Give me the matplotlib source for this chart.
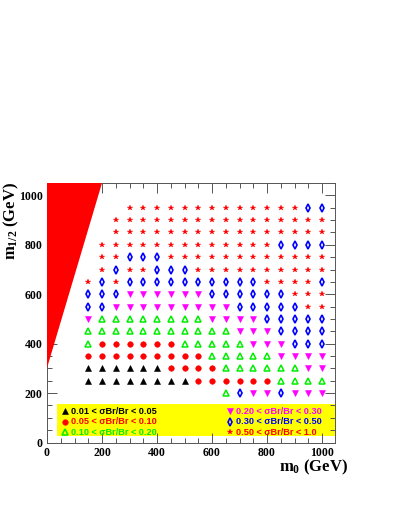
import matplotlib
matplotlib.use("Agg")
import matplotlib.pyplot as plt
from matplotlib.patches import Polygon, Rectangle
from matplotlib.ticker import MultipleLocator

plt.rcParams['mathtext.fontset'] = 'custom'
plt.rcParams['mathtext.rm'] = 'Liberation Serif:bold'
plt.rcParams['mathtext.it'] = 'Liberation Serif:bold'
plt.rcParams['mathtext.bf'] = 'Liberation Serif:bold'

# grid of (m0, m1/2) points, one code per point
m0_values = [150, 200, 250, 300, 350, 400, 450, 500, 550,
             600, 650, 700, 750, 800, 850, 900, 950, 1000]
m12_values = [950, 900, 850, 800, 750, 700, 650, 600,
              550, 500, 450, 400, 350, 300, 250, 200]
# A: 0.01-0.05, C: 0.05-0.10, G: 0.10-0.20, M: 0.20-0.30, D: 0.30-0.50, S: 0.50-1.0
grid_codes = [
    "...SSSSSSSSSSSSSDD",
    "..SSSSSSSSSSSSSSSS",
    "..SSSSSSSSSSSSSSSS",
    ".SSSSSSSSSSSSSDDDD",
    ".SSDDDSSSSSSSSSSSS",
    ".SDSSDDDSSSSSSSSSS",
    "SDSDDDDDDDDDDSSSSD",
    "DDDMMMMMMDDDDDDSSS",
    "DDMMMMMMMMMDDDDDSS",
    "MGGGGGGGGMMMMDDDDD",
    "GGGGGGGGGGGMMMDDDD",
    "GCCCCCCGGGGGMMMDDD",
    "CCCCCCCCCGGGGGMMMM",
    "AAAAAACCCCGGGGGGMM",
    "AAAAAAAACCCCCCGGGG",
    "..........GDMMDMMM",
]

range_labels = ["0.01 < σBr/Br < 0.05", "0.05 < σBr/Br < 0.10", "0.10 < σBr/Br < 0.20",
                "0.20 < σBr/Br < 0.30", "0.30 < σBr/Br < 0.50", "0.50 < σBr/Br < 1.0"]
codes = ["A", "C", "G", "M", "D", "S"]

# excluded region (red wedge)
wedge_m0 = [0, 0, 200]
wedge_m12 = [300, 1050, 1050]

styles = {
    "A": dict(marker='^', color='black', mfc='black', ms=4, mew=0.4),
    "C": dict(marker='o', color='#ff0000', mfc='#ff0000', ms=4, mew=0.4),
    "G": dict(marker='^', color='#00ee00', mfc='none', ms=4, mew=1.1),
    "M": dict(marker='v', color='#ff00ff', mfc='#ff00ff', ms=4, mew=0.4),
    "D": dict(marker='d', color='#0000ff', mfc='none', ms=4.2, mew=1.2),
    "S": dict(marker='*', color='#ff0000', mfc='#ff0000', ms=4.2, mew=0.2),
}
text_colors = ['black', '#ff0000', '#00ee00', '#ff00ff', '#0000ff', '#ff0000']

fig = plt.figure(figsize=(3.99, 5.16), dpi=100)
ax = fig.add_axes([47 / 399, (516 - 442.5) / 516, 288 / 399, 259.5 / 516])

ax.add_patch(Polygon(list(zip(wedge_m0, wedge_m12)), closed=True,
                     facecolor='#ff0000', edgecolor='none', zorder=3))
ax.add_patch(Rectangle((35, 25), 1050 - 35, 130, facecolor='#ffff00',
                       edgecolor='none', zorder=1))

for row, m12 in zip(grid_codes, m12_values):
    for code, m0 in zip(row, m0_values):
        if code == '.':
            continue
        ax.plot(m0, m12, linestyle='none', zorder=4, **styles[code])

# legend inside yellow box
leg_y = [127, 84, 41]
for i, (code, label) in enumerate(zip(codes, range_labels)):
    col = i // 3
    y = leg_y[i % 3]
    xm = 65 if col == 0 else 665
    ax.plot(xm, y, linestyle='none', zorder=4, **styles[code])
    ax.text(xm + 22, y, label, color=text_colors[i], fontsize=6.6,
            fontfamily='Liberation Sans', fontweight='bold', va='center', ha='left', zorder=5)

ax.set_xlim(0, 1047)
ax.set_ylim(0, 1050)
ax.xaxis.set_major_locator(MultipleLocator(200))
ax.xaxis.set_minor_locator(MultipleLocator(50))
ax.yaxis.set_major_locator(MultipleLocator(200))
ax.yaxis.set_minor_locator(MultipleLocator(50))
ax.tick_params(which='both', direction='in', top=True, right=True, color='#555555', width=0.7)
ax.tick_params(which='major', length=7, pad=3)
ax.tick_params(which='minor', length=3.5)
for lab in ax.get_xticklabels() + ax.get_yticklabels():
    lab.set_fontfamily('Liberation Serif')
    lab.set_fontweight('bold')
    lab.set_fontsize(8.5)
for sp in ax.spines.values():
    sp.set_linewidth(0.7)
    sp.set_color('#555555')

fig.text(348 / 399, (516 - 467) / 516, r'$\mathrm{m_{0}}$ (GeV)', ha='right', va='center',
         fontfamily='Liberation Serif', fontweight='bold', fontsize=12)
fig.text(11 / 399, (516 - 182) / 516, r'$\mathrm{m_{1/2}}$ (GeV)', ha='center', va='top',
         rotation=90, fontfamily='Liberation Serif', fontweight='bold', fontsize=12)

fig.savefig('out.png', dpi=100)
